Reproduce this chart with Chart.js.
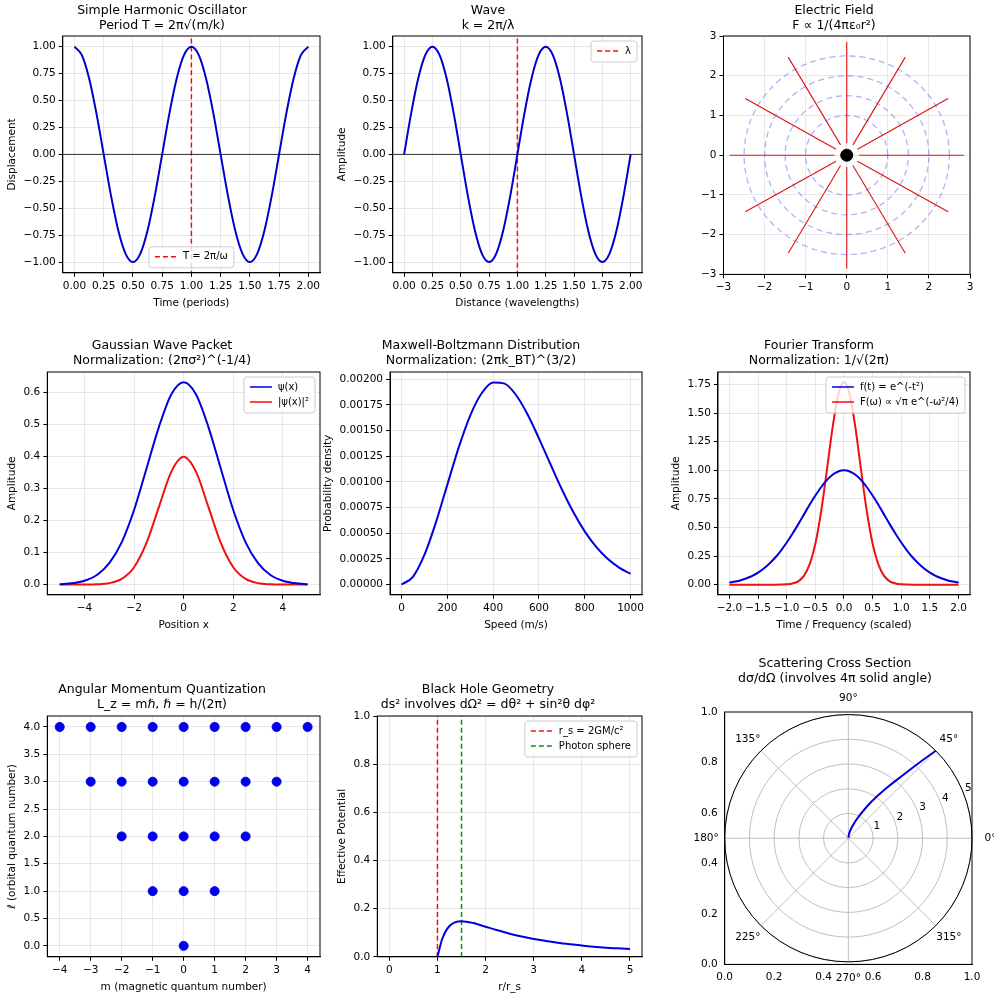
<!DOCTYPE html>
<html><head><meta charset="utf-8">
<script src="https://cdn.jsdelivr.net/npm/chart.js@4.4.1/dist/chart.umd.min.js"></script>
<style>
body{margin:0;background:#fff;width:994px;height:1000px;position:relative;overflow:hidden}
.p{position:absolute}
</style></head><body>
<div class="p" style="left:0;top:0;width:330px;height:314px"><canvas id="c1"></canvas></div>
<div class="p" style="left:330px;top:0;width:322px;height:314px"><canvas id="c2"></canvas></div>
<div class="p" style="left:694px;top:0;width:286px;height:299px"><canvas id="c3"></canvas></div>
<div class="p" style="left:0;top:334px;width:330px;height:302px"><canvas id="c4"></canvas></div>
<div class="p" style="left:316px;top:334px;width:336px;height:302px"><canvas id="c5"></canvas></div>
<div class="p" style="left:664px;top:334px;width:316px;height:302px"><canvas id="c6"></canvas></div>
<div class="p" style="left:0;top:678px;width:330px;height:320px"><canvas id="c7"></canvas></div>
<div class="p" style="left:330px;top:678px;width:322px;height:320px"><canvas id="c8"></canvas></div>
<div class="p" style="left:694px;top:652px;width:300px;height:337px"><canvas id="c9"></canvas></div>
<script>
// ---- data ----
var periodX = [0,0.0625,0.125,0.1875,0.25,0.3125,0.375,0.4375,0.5,0.5625,0.625,0.6875,0.75,0.8125,0.875,0.9375,1,
  1.0625,1.125,1.1875,1.25,1.3125,1.375,1.4375,1.5,1.5625,1.625,1.6875,1.75,1.8125,1.875,1.9375,2];
var shoY = [1,0.924,0.707,0.383,0,-0.383,-0.707,-0.924,-1,-0.924,-0.707,-0.383,0,0.383,0.707,0.924,1,
  0.924,0.707,0.383,0,-0.383,-0.707,-0.924,-1,-0.924,-0.707,-0.383,0,0.383,0.707,0.924,1];
var waveY = [0,0.383,0.707,0.924,1,0.924,0.707,0.383,0,-0.383,-0.707,-0.924,-1,-0.924,-0.707,-0.383,0,
  0.383,0.707,0.924,1,0.924,0.707,0.383,0,-0.383,-0.707,-0.924,-1,-0.924,-0.707,-0.383,0];
var fieldAngles = [0,30,60,90,120,150,180,210,240,270,300,330];
var fieldR = [0.3,2.85];
var equiR = [1,1.5,2,2.5];
var packetX = [-5,-4.5,-4,-3.5,-3,-2.5,-2,-1.5,-1,-0.5,0,0.5,1,1.5,2,2.5,3,3.5,4,4.5,5];
var psiY = [0.001,0.004,0.012,0.030,0.067,0.132,0.233,0.362,0.492,0.594,0.632,0.594,0.492,0.362,0.233,0.132,0.067,0.030,0.012,0.004,0.001];
var psi2Y = [0,0,0.0001,0.0009,0.0044,0.0175,0.054,0.130,0.242,0.352,0.399,0.352,0.242,0.130,0.054,0.0175,0.0044,0.0009,0.0001,0,0];
var speedX = [0,50,100,150,200,250,300,350,400,450,500,550,600,650,700,750,800,850,900,950,1000];
var mbY = [0,7.51e-5,2.878e-4,6.03e-4,9.71e-4,1.336e-3,1.646e-3,1.863e-3,1.968e-3,1.957e-3,1.846e-3,1.659e-3,1.424e-3,1.174e-3,9.28e-4,7.06e-4,5.18e-4,3.66e-4,2.50e-4,1.65e-4,1.05e-4];
var ftX = [-2,-1.9,-1.8,-1.7,-1.6,-1.5,-1.4,-1.3,-1.2,-1.1,-1,-0.9,-0.8,-0.7,-0.6,-0.5,-0.4,-0.3,-0.2,-0.1,0,
  0.1,0.2,0.3,0.4,0.5,0.6,0.7,0.8,0.9,1,1.1,1.2,1.3,1.4,1.5,1.6,1.7,1.8,1.9,2];
var ftBlue = [0.018,0.027,0.039,0.056,0.077,0.105,0.141,0.185,0.237,0.298,0.368,0.445,0.527,0.613,0.698,0.779,0.852,0.914,0.961,0.990,1,
  0.990,0.961,0.914,0.852,0.779,0.698,0.613,0.527,0.445,0.368,0.298,0.237,0.185,0.141,0.105,0.077,0.056,0.039,0.027,0.018];
var ftRed = [0,0,0,0,0,0,0,0,0,0.001,0.003,0.010,0.029,0.077,0.177,0.358,0.637,0.996,1.372,1.662,1.772,
  1.662,1.372,0.996,0.637,0.358,0.177,0.077,0.029,0.010,0.003,0.001,0,0,0,0,0,0,0,0,0];
var ellValues = [0,1,2,3,4];
var bhR = [1,1.1,1.25,1.5,1.75,2,2.25,2.5,2.75,3,3.25,3.5,3.75,4,4.25,4.5,4.75,5];
var bhV = [0,0.075,0.128,0.148,0.140,0.125,0.110,0.096,0.084,0.074,0.066,0.058,0.052,0.047,0.042,0.038,0.035,0.032];
var scatTheta = [88,80,72,64,58,53,49,46.5,45];
var scatR = [0.02,0.2,0.5,1,1.7,2.5,3.4,4.3,5];
var polarRings = [1,2,3,4,5];
var polarSpokes = [0,45,90,135,180,225,270,315];

// ---- helpers ----
Chart.defaults.font.family = 'DejaVu Sans';
Chart.defaults.font.size = 10.5;
Chart.defaults.color = '#000';
Chart.defaults.animation = false;

function ax(min, max, ticks, title, fmt, extra) {
  var a = {
    type: 'linear', min: min, max: max,
    afterBuildTicks: function (s) { s.ticks = ticks.map(function (v) { return {value: v}; }); },
    ticks: {color: '#000', autoSkip: false, maxRotation: 0, padding: 3,
      callback: function (v) { return fmt ? fmt(v) : String(v).replace('-', '\u2212'); }},
    grid: {color: 'rgba(0,0,0,0.09)', tickColor: '#000', tickLength: 4},
    border: {color: '#000'},
    title: {display: !!title, text: title, color: '#000', font: {size: 10.5}, padding: 2}
  };
  if (extra) Object.assign(a, extra);
  return a;
}
function fx(n) { return function (v) { return v.toFixed(n).replace('-', '\u2212'); }; }
function pts(xs, ys) { return xs.map(function (x, i) { return {x: x, y: ys[i]}; }); }
function line(label, data, color, dash, w) {
  return {label: label, data: data, borderColor: color, backgroundColor: color, showLine: true,
    pointRadius: 0, borderWidth: w || 2, borderDash: dash || [], cubicInterpolationMode: 'monotone'};
}
function titleOpt(a, b, pb, pt) {
  return {display: true, text: [a, b], color: '#000', font: {size: 12.5, weight: 'normal', lineHeight: 1.2},
    padding: {top: pt === undefined ? 4 : pt, bottom: pb || 4}};
}

var framePlugin = {
  id: 'frame',
  afterDraw: function (c) {
    var a = c.chartArea, x = c.ctx;
    x.save(); x.strokeStyle = '#000'; x.lineWidth = 1;
    x.strokeRect(a.left, a.top, a.right - a.left, a.bottom - a.top); x.restore();
  }
};
var legendPlugin = {
  id: 'innerLegend',
  afterDraw: function (c, args, o) {
    if (!o || !o.corner) return;
    var x = c.ctx, a = c.chartArea;
    var items = c.data.datasets.filter(function (d) { return d.label; });
    x.save(); x.font = '10px DejaVu Sans';
    var w = 0;
    items.forEach(function (d) { w = Math.max(w, x.measureText(d.label).width); });
    var bw = w + 40, bh = items.length * 15 + 6;
    var bx = o.corner === 'bc' ? (a.left + a.right) / 2 - bw / 2 : a.right - bw - 5;
    var by = o.corner === 'bc' ? a.bottom - bh - 5 : a.top + 5;
    x.fillStyle = 'rgba(255,255,255,0.8)'; x.strokeStyle = '#ccc'; x.lineWidth = 1;
    x.beginPath(); x.roundRect(bx, by, bw, bh, 3); x.fill(); x.stroke();
    items.forEach(function (d, i) {
      var yy = by + 10 + i * 15;
      x.strokeStyle = d.borderColor; x.lineWidth = 1.5; x.setLineDash(d.borderDash || []);
      x.beginPath(); x.moveTo(bx + 6, yy); x.lineTo(bx + 28, yy); x.stroke(); x.setLineDash([]);
      x.fillStyle = '#000'; x.textBaseline = 'middle'; x.fillText(d.label, bx + 34, yy);
    });
    x.restore();
  }
};
Chart.register(framePlugin, legendPlugin);

function mk(id, datasets, scales, title, legendCorner, extraPlugins, pad) {
  return new Chart(document.getElementById(id), {
    type: 'scatter',
    data: {datasets: datasets},
    options: {
      responsive: true, maintainAspectRatio: false,
      layout: {padding: pad || {left: 4, right: 10, top: 0, bottom: 2}},
      plugins: {legend: {display: false}, tooltip: {enabled: false}, title: title,
        innerLegend: {corner: legendCorner}},
      scales: scales
    },
    plugins: extraPlugins || []
  });
}

var tk1 = [0,0.25,0.5,0.75,1,1.25,1.5,1.75,2];
var tkY1 = [-1,-0.75,-0.5,-0.25,0,0.25,0.5,0.75,1];

// 1 SHO
mk('c1', [
  line('', pts(periodX, shoY), '#0000cc'),
  line('', [{x: -0.1, y: 0}, {x: 2.1, y: 0}], '#000', [], 0.8),
  line('T = 2\u03c0/\u03c9', [{x: 1, y: -1.2}, {x: 1, y: 1.2}], '#ee1111', [5, 3], 1.5)
], {x: ax(-0.1, 2.1, tk1, 'Time (periods)', fx(2)), y: ax(-1.1, 1.1, tkY1, 'Displacement', fx(2))},
  titleOpt('Simple Harmonic Oscillator', 'Period T = 2\u03c0\u221a(m/k)', 3, 3), 'bc');

// 2 Wave
mk('c2', [
  line('', pts(periodX, waveY), '#0000cc'),
  line('', [{x: -0.1, y: 0}, {x: 2.1, y: 0}], '#000', [], 0.8),
  line('\u03bb', [{x: 1, y: -1.2}, {x: 1, y: 1.2}], '#ee1111', [5, 3], 1.5)
], {x: ax(-0.1, 2.1, tk1, 'Distance (wavelengths)', fx(2)), y: ax(-1.1, 1.1, tkY1, 'Amplitude', fx(2))},
  titleOpt('Wave', 'k = 2\u03c0/\u03bb', 3, 3), 'tr');

// 3 Electric field
var ds3 = [];
equiR.forEach(function (r) {
  var c = [];
  for (var t = 0; t <= 360; t += 5) c.push({x: r * Math.cos(t * Math.PI / 180), y: r * Math.sin(t * Math.PI / 180)});
  ds3.push(Object.assign(line('', c, 'rgba(60,60,230,0.4)', [6, 4], 1.3), {cubicInterpolationMode: 'default', tension: 0}));
});
fieldAngles.forEach(function (t) {
  var a = t * Math.PI / 180;
  ds3.push(line('', fieldR.map(function (r) { return {x: r * Math.cos(a), y: r * Math.sin(a)}; }), '#e01010', [], 1.1));
});
ds3.push({data: [{x: 0, y: 0}], pointRadius: 6, backgroundColor: '#000', borderColor: '#000'});
var tk3 = [-3,-2,-1,0,1,2,3];
mk('c3', ds3, {x: ax(-3, 3, tk3, ''), y: ax(-3, 3, tk3, '')},
  titleOpt('Electric Field', 'F \u221d 1/(4\u03c0\u03b5\u2080r\u00b2)', 3, 3));

// 4 Gaussian packet
mk('c4', [
  line('\u03c8(x)', pts(packetX, psiY), '#0000dd'),
  line('|\u03c8(x)|\u00b2', pts(packetX, psi2Y), '#ee1111')
], {x: ax(-5.5, 5.5, [-4,-2,0,2,4], 'Position x'), y: ax(-0.032, 0.664, [0,0.1,0.2,0.3,0.4,0.5,0.6], 'Amplitude', fx(1))},
  titleOpt('Gaussian Wave Packet', 'Normalization: (2\u03c0\u03c3\u00b2)^(-1/4)'), 'tr');

// 5 Maxwell-Boltzmann
mk('c5', [line('', pts(speedX, mbY), '#0000dd')],
  {x: ax(-50, 1050, [0,200,400,600,800,1000], 'Speed (m/s)'),
   y: ax(-0.0001, 0.00207, [0,0.00025,0.0005,0.00075,0.001,0.00125,0.0015,0.00175,0.002], 'Probability density', fx(5))},
  titleOpt('Maxwell-Boltzmann Distribution', 'Normalization: (2\u03c0k_BT)^(3/2)'));

// 6 Fourier
mk('c6', [
  line('f(t) = e^(-t\u00b2)', pts(ftX, ftBlue), '#0000dd'),
  line('F(\u03c9) \u221d \u221a\u03c0 e^(-\u03c9\u00b2/4)', pts(ftX, ftRed), '#ee1111')
], {x: ax(-2.2, 2.2, [-2,-1.5,-1,-0.5,0,0.5,1,1.5,2], 'Time / Frequency (scaled)', fx(1)),
    y: ax(-0.089, 1.86, [0,0.25,0.5,0.75,1,1.25,1.5,1.75], 'Amplitude', fx(2))},
  titleOpt('Fourier Transform', 'Normalization: 1/\u221a(2\u03c0)'), 'tr');

// 7 Angular momentum
var amPts = [];
ellValues.forEach(function (l) { for (var m = -l; m <= l; m++) amPts.push({x: m, y: l}); });
mk('c7', [{data: amPts, pointRadius: 4.5, backgroundColor: '#0000ee', borderColor: '#0000ee'}],
  {x: ax(-4.4, 4.4, [-4,-3,-2,-1,0,1,2,3,4], 'm (magnetic quantum number)'),
   y: ax(-0.2, 4.2, [0,0.5,1,1.5,2,2.5,3,3.5,4], '\u2113 (orbital quantum number)', fx(1))},
  titleOpt('Angular Momentum Quantization', 'L_z = m\u210f, \u210f = h/(2\u03c0)'));

// 8 Black hole
mk('c8', [
  line('', pts(bhR, bhV), '#0000dd'),
  line('r_s = 2GM/c\u00b2', [{x: 1, y: 0}, {x: 1, y: 1}], '#ee1111', [5, 3], 1.5),
  line('Photon sphere', [{x: 1.5, y: 0}, {x: 1.5, y: 1}], '#109010', [5, 3], 1.5)
], {x: ax(-0.25, 5.25, [0,1,2,3,4,5], 'r/r_s'), y: ax(0, 1, [0,0.2,0.4,0.6,0.8,1], 'Effective Potential', fx(1))},
  titleOpt('Black Hole Geometry', 'ds\u00b2 involves d\u03a9\u00b2 = d\u03b8\u00b2 + sin\u00b2\u03b8 d\u03c6\u00b2'), 'tr');

// 9 Polar scattering
var polarPlugin = {
  id: 'polarGrid',
  beforeDatasetsDraw: function (c) {
    var x = c.ctx, sx = c.scales.px, sy = c.scales.py;
    var cx = sx.getPixelForValue(0), cy = sy.getPixelForValue(0);
    var u = sx.getPixelForValue(1) - cx;
    x.save();
    x.fillStyle = '#fff'; x.beginPath(); x.arc(cx, cy, 5 * u, 0, 2 * Math.PI); x.fill();
    x.strokeStyle = '#b0b0b0'; x.lineWidth = 0.8;
    polarRings.forEach(function (r) { x.beginPath(); x.arc(cx, cy, r * u, 0, 2 * Math.PI); x.stroke(); });
    polarSpokes.forEach(function (t) {
      var a = t * Math.PI / 180;
      x.beginPath(); x.moveTo(cx, cy); x.lineTo(cx + 5 * u * Math.cos(a), cy - 5 * u * Math.sin(a)); x.stroke();
    });
    x.strokeStyle = '#000'; x.lineWidth = 1;
    x.beginPath(); x.arc(cx, cy, 5 * u, 0, 2 * Math.PI); x.stroke();
    x.fillStyle = '#000'; x.font = '10.5px DejaVu Sans'; x.textAlign = 'center'; x.textBaseline = 'middle';
    polarSpokes.forEach(function (t) {
      var a = t * Math.PI / 180;
      x.fillText(t + '\u00b0', cx + 5.75 * u * Math.cos(a), cy - 5.65 * u * Math.sin(a));
    });
    polarRings.forEach(function (r) {
      var a = 22.5 * Math.PI / 180;
      x.fillText(String(r), cx + (r + 0.25) * u * Math.cos(a), cy - (r + 0.25) * u * Math.sin(a));
    });
    x.restore();
  }
};
var scatPts = scatTheta.map(function (t, i) {
  var a = t * Math.PI / 180;
  return {x: scatR[i] * Math.cos(a), y: scatR[i] * Math.sin(a)};
});
var d9 = line('', scatPts, '#0000dd');
d9.xAxisID = 'px'; d9.yAxisID = 'py'; d9.cubicInterpolationMode = 'default'; d9.tension = 0.4;
var tk9 = [0,0.2,0.4,0.6,0.8,1];
mk('c9', [d9], {
  x: ax(0, 1, tk9, '', fx(1), {grid: {display: false, drawTicks: true, tickColor: '#000', tickLength: 4}}),
  y: ax(0, 1, tk9, '', fx(1), {grid: {display: false, tickColor: '#000', tickLength: 4}}),
  px: {type: 'linear', min: -5, max: 5, display: false},
  py: {type: 'linear', min: -5.1, max: 5.1, display: false}
}, titleOpt('Scattering Cross Section', 'd\u03c3/d\u03a9 (involves 4\u03c0 solid angle)', 26), null, [polarPlugin],
  {left: 4, right: 22, top: 0, bottom: 2});
</script>
</body></html>
